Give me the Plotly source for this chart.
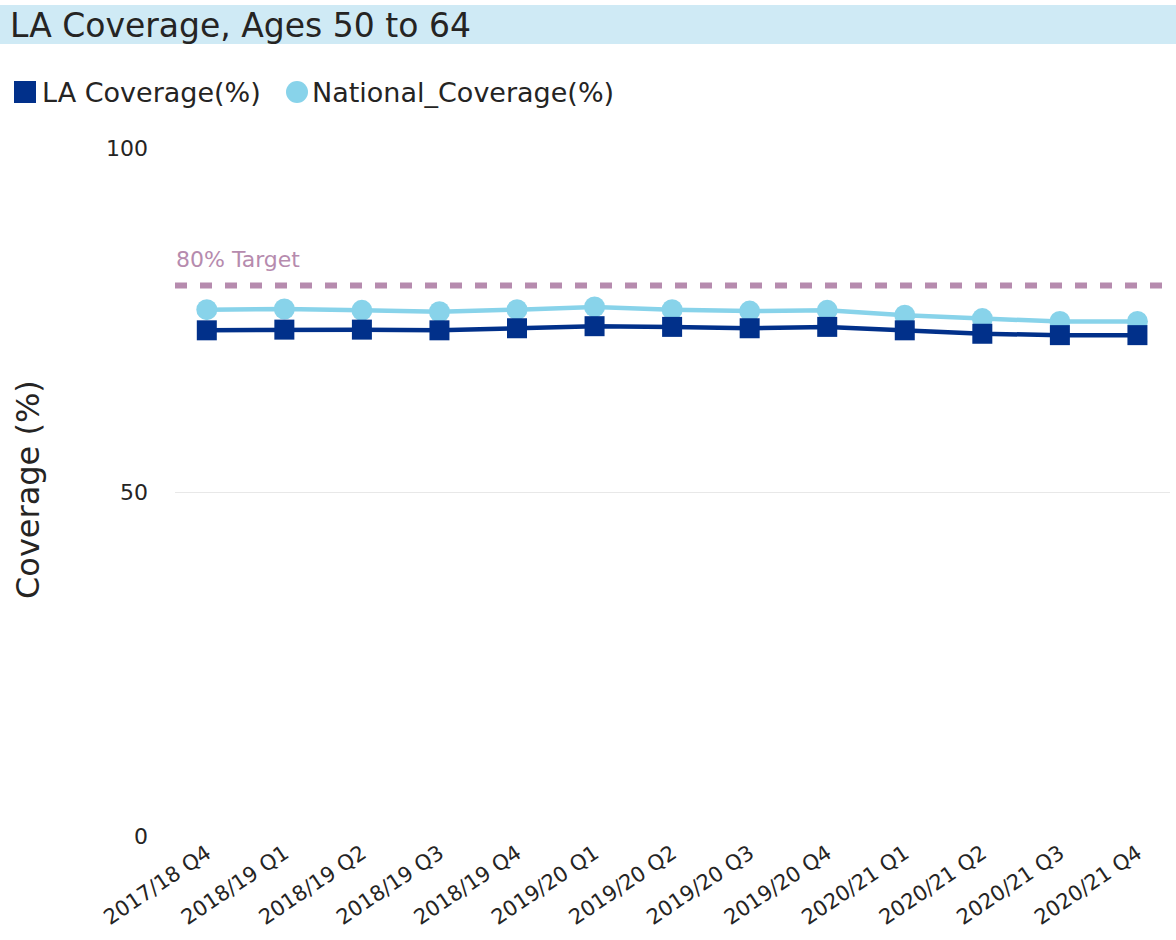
import plotly.graph_objects as go

# -------------------
# Dados
# -------------------

quarters = [
    "2017/18 Q4", "2018/19 Q1", "2018/19 Q2", "2018/19 Q3", "2018/19 Q4",
    "2019/20 Q1", "2019/20 Q2", "2019/20 Q3", "2019/20 Q4",
    "2020/21 Q1", "2020/21 Q2", "2020/21 Q3", "2020/21 Q4",
]

la_coverage = [73.5, 73.6, 73.6, 73.5, 73.8, 74.1, 74.0, 73.8, 74.0, 73.5, 73.0, 72.8, 72.8]
national_coverage = [76.5, 76.6, 76.4, 76.2, 76.5, 76.9, 76.5, 76.3, 76.4, 75.7, 75.2, 74.8, 74.8]

target = 80
y_ticks = [0, 50, 100]

LA_COLOR = "#01308a"
NAT_COLOR = "#88d3ea"
TARGET_COLOR = "#b68bae"
TEXT_COLOR = "#252423"
FONT = "DejaVu Sans"

W, H = 1176, 940
L, R, T, B = 175, 6, 148, 104
PW = W - L - R
PH = H - T - B


def px_x(p):
    return (p - L) / PW


def px_y(p):
    return (H - B - p) / PH


fig = go.Figure()

# -------- linhas --------

fig.add_trace(go.Scatter(
    x=quarters, y=national_coverage, name="National_Coverage(%)",
    mode="lines+markers",
    line=dict(color=NAT_COLOR, width=4.5),
    marker=dict(symbol="circle", size=21, color=NAT_COLOR),
    showlegend=False
))

fig.add_trace(go.Scatter(
    x=quarters, y=la_coverage, name="LA Coverage(%)",
    mode="lines+markers",
    line=dict(color=LA_COLOR, width=4.5),
    marker=dict(symbol="square", size=20, color=LA_COLOR),
    showlegend=False
))

# -------- legenda (desenhada a mao) --------

fig.add_shape(
    type="rect", xref="paper", yref="paper",
    x0=px_x(14), x1=px_x(36), y0=px_y(103), y1=px_y(81),
    fillcolor=LA_COLOR, line=dict(width=0)
)
fig.add_annotation(
    xref="paper", yref="paper", x=px_x(40), y=px_y(92),
    text="LA Coverage(%)", showarrow=False, xanchor="left", yanchor="middle",
    font=dict(family=FONT, size=27, color=TEXT_COLOR)
)
fig.add_shape(
    type="circle", xref="paper", yref="paper",
    x0=px_x(286), x1=px_x(308), y0=px_y(103), y1=px_y(81),
    fillcolor=NAT_COLOR, line=dict(width=0)
)
fig.add_annotation(
    xref="paper", yref="paper", x=px_x(310), y=px_y(92),
    text="National_Coverage(%)", showarrow=False, xanchor="left", yanchor="middle",
    font=dict(family=FONT, size=27, color=TEXT_COLOR)
)

# -------- meta 80% --------

fig.add_shape(
    type="line", xref="paper", yref="y",
    x0=0, x1=1, y0=target, y1=target,
    line=dict(color=TARGET_COLOR, width=6, dash="12px,13px")
)

fig.add_annotation(
    xref="paper", yref="y", x=px_x(174), y=target,
    text="80% Target", showarrow=False,
    xanchor="left", yanchor="bottom", yshift=12,
    font=dict(family=FONT, size=22, color=TARGET_COLOR)
)

# -------- barra do titulo --------

fig.add_shape(
    type="rect", xref="paper", yref="paper", layer="below",
    x0=px_x(0), x1=px_x(W), y0=px_y(44), y1=px_y(5),
    fillcolor="#cfeaf5", line=dict(width=0)
)

fig.add_annotation(
    xref="paper", yref="paper", x=px_x(8), y=px_y(25),
    text="LA Coverage, Ages 50 to 64", showarrow=False,
    xanchor="left", yanchor="middle",
    font=dict(family=FONT, size=33, color=TEXT_COLOR)
)

fig.add_annotation(
    xref="paper", yref="paper", x=px_x(28), y=px_y(490),
    text="Coverage (%)", showarrow=False, textangle=-90,
    xanchor="center", yanchor="middle",
    font=dict(family=FONT, size=32, color=TEXT_COLOR)
)

fig.update_layout(
    width=W, height=H,
    margin=dict(l=L, r=R, t=T, b=B),
    plot_bgcolor="white", paper_bgcolor="white",
    font=dict(family=FONT, color=TEXT_COLOR),
    showlegend=False,
    xaxis=dict(
        type="category", range=[-0.41, 12.42],
        showgrid=False, zeroline=False, showline=False,
        tickangle=-34, tickfont=dict(size=21, color=TEXT_COLOR)
    ),
    yaxis=dict(
        range=[0, 100], tickvals=y_ticks,
        showgrid=True, gridcolor="#e8e8e8", gridwidth=1,
        zeroline=False, showline=False,
        ticklabelstandoff=26,
        tickfont=dict(size=22, color=TEXT_COLOR)
    )
)

fig.write_html(
    "out.html",
    config={"displayModeBar": False},
    post_script="document.body.style.margin='0';"
)
